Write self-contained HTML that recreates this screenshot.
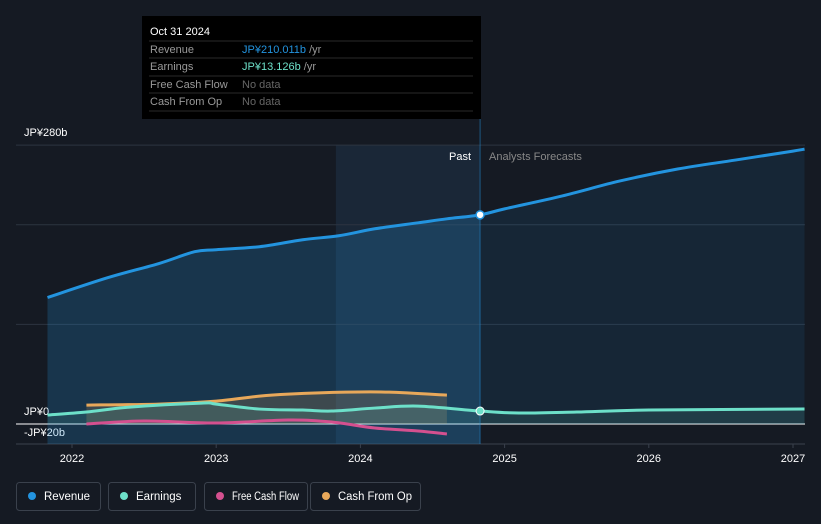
<!DOCTYPE html>
<html><head><meta charset="utf-8"><style>
body{margin:0;background:#151a23;font-family:"Liberation Sans",sans-serif;}
svg{display:block}
</style></head><body>
<svg width="821" height="524">
<rect width="821" height="524" fill="#151a23"/>
<g id="grid"></g>
<g id="marks"></g>
<g id="tooltip">
<rect x="142" y="16" width="339" height="103" fill="#000"/>
<text x="150" y="35" fill="#fff" font-size="11">Oct 31 2024</text>
<line x1="149" x2="473" y1="41" y2="41" stroke="#2a2a2a"/>
<text x="150" y="53" fill="#999" font-size="11">Revenue</text>
<text x="242" y="53" fill="#2394df" font-size="11">JP¥210.011b <tspan fill="#999">/yr</tspan></text>
<line x1="149" x2="473" y1="58" y2="58" stroke="#2a2a2a"/>
<text x="150" y="70" fill="#999" font-size="11">Earnings</text>
<text x="242" y="70" fill="#6de0c9" font-size="11">JP¥13.126b <tspan fill="#999">/yr</tspan></text>
<line x1="149" x2="473" y1="76" y2="76" stroke="#2a2a2a"/>
<text x="150" y="88" fill="#999" font-size="11">Free Cash Flow</text>
<text x="242" y="88" fill="#666" font-size="11">No data</text>
<line x1="149" x2="473" y1="93" y2="93" stroke="#2a2a2a"/>
<text x="150" y="105" fill="#999" font-size="11">Cash From Op</text>
<text x="242" y="105" fill="#666" font-size="11">No data</text>
<line x1="149" x2="473" y1="111" y2="111" stroke="#2a2a2a"/>
</g>
<text x="449" y="160" fill="#fff" font-size="11">Past</text>
<text x="489" y="160" fill="#888" font-size="11">Analysts Forecasts</text>
<g id="legend"></g>
</svg>
<script>
const years=[2022,2023,2024,2025,2026,2027];
const yTicks=[280,0,-20];
const yTickLabels=["JP¥280b","JP¥0","-JP¥20b"];
const revT=[2021.83,2022.25,2022.6,2022.85,2023.0,2023.3,2023.6,2023.85,2024.1,2024.4,2024.6,2024.83,2025.0,2025.4,2025.8,2026.2,2026.6,2027.0,2027.08];
const revV=[127,147,161,173,175,178,185,189,196,202,206,210,216,229,244,256,265,274,276];
const earnT=[2021.83,2022.1,2022.4,2022.9,2023.0,2023.3,2023.6,2023.8,2024.1,2024.4,2024.83,2025.1,2025.5,2026.0,2027.08];
const earnV=[9,12,17,21,20,15,14,13,16,18,13,11,12,14,15];
const fcfT=[2022.1,2022.5,2023.0,2023.5,2023.8,2024.1,2024.4,2024.6];
const fcfV=[0,3,1,4,2,-4,-7,-10];
const cfoT=[2022.1,2022.6,2023.0,2023.3,2023.5,2023.9,2024.2,2024.6];
const cfoV=[19,20,23,28,30,32,32,29];
const NOW=2024.83;
const X=t=>72+(t-2022)*144.2;
const Y=v=>424-v*0.996;
const NS="http://www.w3.org/2000/svg";
function mk(tag,attrs,parent){const e=document.createElementNS(NS,tag);for(const k in attrs)e.setAttribute(k,attrs[k]);parent.appendChild(e);return e;}
function path(T,V){const p=T.map((t,i)=>[X(t),Y(V[i])]);let s="M"+p[0][0]+","+p[0][1];
for(let i=0;i<p.length-1;i++){const p0=p[Math.max(0,i-1)],p1=p[i],p2=p[i+1],p3=p[Math.min(p.length-1,i+2)];
const c1=[p1[0]+(p2[0]-p0[0])/6,p1[1]+(p2[1]-p0[1])/6],c2=[p2[0]-(p3[0]-p1[0])/6,p2[1]-(p3[1]-p1[1])/6];
s+=` C${c1[0]},${c1[1]} ${c2[0]},${c2[1]} ${p2[0]},${p2[1]}`;}return s;}
const grid=document.getElementById('grid'),marks=document.getElementById('marks');
let r=mk('rect',{x:X(2023.83),y:145,width:X(NOW)-X(2023.83),height:299,fill:'#1a2737'},grid);

[280,200,100].forEach(v=>{const l=mk('line',{x1:16,x2:805,y1:Y(v),y2:Y(v),stroke:'#2c3440'},grid);});
let zl=mk('line',{x1:16,x2:805,y1:Y(0),y2:Y(0),stroke:'#fff'},grid);
let bl=mk('line',{x1:16,x2:805,y1:444,y2:444,stroke:'#3a414c'},grid);
const labelY=[136,415,436];
yTicks.forEach((v,i)=>{const t=mk('text',{x:24,y:labelY[i],fill:'#fff','font-size':11},grid);t.textContent=yTickLabels[i];});
years.forEach(y=>{const t=mk('text',{x:X(y),y:462,fill:'#fff','font-size':11,'text-anchor':'middle'},grid);t.textContent=y;
const tk=mk('line',{x1:X(y),x2:X(y),y1:444,y2:448,stroke:'#3a414c'},grid);});
const pastIdx=revT.indexOf(NOW);
const rpT=revT.slice(0,pastIdx+1),rpV=revV.slice(0,pastIdx+1);
let a=mk('path',{d:path(rpT,rpV)+` L${X(NOW)},444 L${X(revT[0])},444 Z`,fill:'#2394df',opacity:0.22},marks);

const rfT=revT.slice(pastIdx),rfV=revV.slice(pastIdx);
a=mk('path',{d:path(rfT,rfV)+` L${X(rfT[rfT.length-1])},${Y(0)} L${X(NOW)},${Y(0)} Z`,fill:'#2394df',opacity:0.1},marks);

a=mk('path',{d:path(cfoT,cfoV)+` L${X(cfoT[cfoT.length-1])},${Y(0)} L${X(cfoT[0])},${Y(0)} Z`,fill:'#e8a85a',opacity:0.18},marks);

a=mk('path',{d:path(earnT,earnV)+` L${X(earnT[earnT.length-1])},${Y(0)} L${X(earnT[0])},${Y(0)} Z`,fill:'#6de0c9',opacity:0.12},marks);

const series=[[cfoT,cfoV,'#e8a85a','cash-from-op-line'],[fcfT,fcfV,'#d4508f','free-cash-flow-line'],[earnT,earnV,'#6de0c9','earnings-line'],[revT,revV,'#2394df','revenue-line']];
series.forEach(s=>{const p=mk('path',{d:path(s[0],s[1]),fill:'none',stroke:s[2],'stroke-width':3},marks);});
let nl=mk('line',{x1:X(NOW),x2:X(NOW),y1:119,y2:444,stroke:'#2394df','stroke-opacity':0.5},marks);
let d1=mk('circle',{cx:X(NOW),cy:Y(revV[pastIdx]),r:4,fill:'#fff',stroke:'#2394df','stroke-width':1.5},marks);
let d2=mk('circle',{cx:X(NOW),cy:Y(earnV[earnT.indexOf(NOW)]),r:4,fill:'#6de0c9',stroke:'#fff','stroke-width':1},marks);
const lg=document.getElementById('legend');
const items=[['Revenue','#2394df',16,84],['Earnings','#6de0c9',108,87],['Free Cash Flow','#d4508f',204,103],['Cash From Op','#e8a85a',310,110]];
items.forEach(it=>{const g=mk('g',{},lg);
mk('rect',{x:it[2]+0.5,y:482.5,width:it[3],height:28,rx:3,fill:'none',stroke:'#3a414c'},g);
mk('circle',{cx:it[2]+16,cy:496,r:4,fill:it[1]},g);
const t=mk('text',{x:it[2]+28,y:500,fill:'#fff','font-size':11.5},g);t.textContent=it[0];
if(t.getComputedTextLength()>it[3]-36){t.setAttribute('textLength',it[3]-36);t.setAttribute('lengthAdjust','spacingAndGlyphs');}});
</script>
</body></html>
